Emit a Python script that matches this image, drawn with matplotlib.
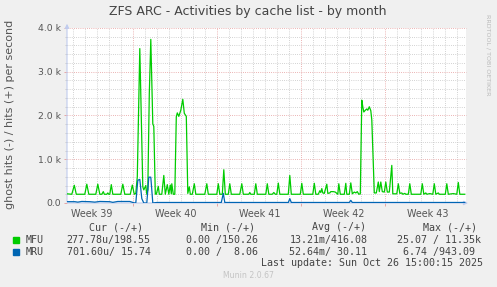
import matplotlib
matplotlib.use("Agg")
import matplotlib.pyplot as plt

# ------------------------------------------------------------
# DATA  (hours since Mon 22 Sep 2025 00:00, hits per second)
# ------------------------------------------------------------

mfu_hours = [35, 45, 50, 54, 71, 75, 79, 93, 97, 101, 105, 108, 110, 115, 117, 119,
             121, 124, 127, 143, 147, 151, 162, 166, 170, 173, 176, 181, 184, 187,
             189, 193, 195, 197, 200, 203, 207, 209, 212, 214, 218, 220, 225, 229,
             232, 236, 239, 242, 244, 245, 248, 251, 254, 256, 259, 263, 267, 270,
             273, 274, 277, 280, 282, 286, 290, 293, 311, 315, 318, 335, 338, 341,
             346, 349, 352, 358, 361, 364, 381, 385, 388, 399, 401, 403, 410, 413,
             416, 433, 436, 439, 446, 449, 452, 455, 458, 461, 478, 481, 484, 502,
             505, 508, 527, 530, 533, 538, 541, 543, 545, 547, 550, 555, 557, 561,
             563, 568, 572, 574, 577, 579, 582, 590, 593, 595, 600, 603, 606, 610,
             613, 616, 619, 622, 625, 627, 629, 632, 635, 637, 640, 643, 645, 650,
             654, 658, 660, 663, 666, 670, 673, 676, 680, 685, 687, 695, 698, 701,
             705, 707, 711, 713, 718, 721, 724, 743, 746, 749, 753, 755, 761, 767,
             770, 773, 778, 780, 792, 795, 798, 808, 815, 818, 821, 831]
mfu_values = [210, 200, 405, 200, 200, 430, 200, 200, 430, 200, 200, 260, 200, 200, 230, 200,
              200, 420, 200, 200, 430, 200, 200, 410, 200, 220, 600, 3530, 2000, 370,
              300, 400, 200, 300, 2500, 3740, 1810, 1750, 205, 200, 380, 200, 200, 630,
              200, 420, 200, 410, 210, 440, 200, 200, 1970, 2060, 1980, 2120, 2370, 2050,
              2000, 1980, 220, 370, 200, 200, 440, 200, 200, 440, 200, 200, 440, 200,
              200, 760, 200, 200, 440, 200, 200, 440, 200, 200, 240, 200, 200, 440,
              200, 200, 440, 200, 200, 240, 200, 200, 455, 200, 200, 630, 200, 200,
              450, 200, 200, 450, 200, 200, 280, 240, 330, 230, 220, 430, 220, 230,
              260, 260, 250, 230, 200, 440, 200, 200, 450, 200, 200, 460, 210, 250,
              230, 260, 200, 210, 2350, 2200, 2080, 2120, 2150, 2120, 2200, 2110, 1900, 230,
              230, 480, 260, 480, 260, 250, 480, 250, 250, 860, 210, 210, 440, 220,
              230, 200, 220, 200, 200, 440, 200, 200, 440, 200, 230, 200, 215, 200,
              440, 200, 230, 200, 200, 440, 200, 215, 200, 470, 200, 200]

mru_hours = [35, 51, 57, 65, 81, 91, 101, 121, 127, 137, 161, 169, 173, 177, 181, 185,
             189, 195, 199, 203, 207, 215, 344, 348, 351, 478, 481, 484, 600, 603,
             606, 831]
mru_values = [30, 30, 20, 35, 30, 20, 35, 30, 15, 35, 35, 5, 0, 520, 540, 100,
              0, 0, 590, 590, 0, 12, 12, 220, 12, 12, 100, 12, 12, 60,
              12, 12]

series_names = ["MFU", "MRU"]
series_colors = ["#00CC00", "#0066B3"]

week_labels = ["Week 39", "Week 40", "Week 41", "Week 42", "Week 43"]
y_ticks = [0, 1000, 2000, 3000, 4000]
y_tick_labels = ["0.0", "1.0 k", "2.0 k", "3.0 k", "4.0 k"]

legend_headers = ["Cur (-/+)", "Min (-/+)", "Avg (-/+)", "Max (-/+)"]
legend_rows = [
    ["277.78u/198.55", "0.00 /150.26", "13.21m/416.08", "25.07 / 11.35k"],
    ["701.60u/ 15.74", "0.00 /  8.06", "52.64m/ 30.11", "6.74 /943.09"],
]

# ------------------------------------------------------------
# FIGURE
# ------------------------------------------------------------

W, H = 497, 287
fig = plt.figure(figsize=(W / 100, H / 100), dpi=100, facecolor="#F0F0F0")

def px(x, y):
    return x / W, 1 - y / H

ax = fig.add_axes([67 / W, 1 - 203 / H, (466 - 67) / W, (203 - 28) / H])
ax.set_facecolor("white")
ax.set_xlim(35.4, 833.4)
ax.set_ylim(0, 4000)

for s in ax.spines.values():
    s.set_visible(False)

# grid
grid_grey = "#C4C4C4"
grid_red = "#E49A9A"
dots = (0, (1, 1.6))
for h in range(24, 840, 24):
    if h % 168 == 0:
        continue
    ax.axvline(h, color=grid_grey, lw=0.6, ls=dots, zorder=1)
for v in range(200, 4001, 200):
    if v % 1000 == 0:
        continue
    ax.axhline(v, color=grid_grey, lw=0.6, ls=dots, zorder=1)
for h in range(168, 840, 168):
    ax.axvline(h, color=grid_red, lw=0.6, ls=dots, zorder=1)
for v in range(1000, 4001, 1000):
    ax.axhline(v, color=grid_red, lw=0.6, ls=dots, zorder=1, clip_on=False)

# series
ax.plot(mfu_hours, mfu_values, color=series_colors[0], lw=0.9, zorder=3)
ax.plot(mru_hours, mru_values, color=series_colors[1], lw=0.9, zorder=3)

# axis arrows
ax.annotate("", xy=(1.012, 0), xytext=(-0.005, 0), xycoords="axes fraction",
            arrowprops=dict(arrowstyle="-|>", color="#C0CCEE", lw=0.8,
                            mutation_scale=6), zorder=2, annotation_clip=False)
ax.annotate("", xy=(0, 1.04), xytext=(0, -0.01), xycoords="axes fraction",
            arrowprops=dict(arrowstyle="-|>", color="#C0CCEE", lw=0.8,
                            mutation_scale=6), zorder=2, annotation_clip=False)

# ticks
ax.set_xticks([84 + 168 * i for i in range(len(week_labels))])
ax.set_xticklabels(week_labels)
ax.set_xticks(list(range(168, 840, 168)), minor=True)
ax.tick_params(axis="x", which="major", length=0, pad=4, labelsize=6.9,
               labelcolor="#555555")
ax.tick_params(axis="x", which="minor", length=2, width=0.6, color=grid_red)
ax.set_yticks(y_ticks)
ax.set_yticklabels(y_tick_labels)
ax.set_yticks([v for v in range(200, 4000, 200) if v % 1000], minor=True)
ax.tick_params(axis="y", which="major", length=2, width=0.6, color=grid_red,
               pad=2.5, labelsize=6.7, labelcolor="#555555")
ax.tick_params(axis="y", which="minor", length=1.5, width=0.6, color=grid_grey)

# title / axis label
fig.text(*px(248, 12), "ZFS ARC - Activities by cache list - by month",
         ha="center", va="center", fontsize=9.0, color="#444444")
fig.text(*px(10, 114), "ghost hits (-) / hits (+) per second", rotation=90,
         ha="center", va="center", fontsize=8.0, color="#555555")
fig.text(*px(488, 55), "RRDTOOL / TOBI OETIKER", rotation=270,
         ha="center", va="center", fontsize=4.6, color="#BBBBBB")

# legend
mono = "DejaVu Sans Mono"
fs = 7.2
for x, t in zip([89.3, 201, 311.7, 422.7], legend_headers):
    fig.text(*px(x, 227), t, ha="left", va="center", family=mono,
             fontsize=fs, color="#444444")

col_x = [[66.7, 185.7, 289.3, 397.3], [66.7, 185.7, 289.3, 403.3]]
for i, (name, color) in enumerate(zip(series_names, series_colors)):
    yy = 240 + i * 12.3
    fig.patches.append(plt.Rectangle(px(13.3, yy + 3), 6 / W, 6 / H,
                                     transform=fig.transFigure, color=color))
    fig.text(*px(26, yy), name, ha="left", va="center", family=mono,
             fontsize=fs, color="#444444")
    for x, t in zip(col_x[i], legend_rows[i]):
        fig.text(*px(x, yy), t, ha="left", va="center", family=mono,
                 fontsize=fs, color="#444444")

fig.text(*px(482.7, 263.5), "Last update: Sun Oct 26 15:00:15 2025",
         ha="right", va="center", family=mono, fontsize=fs, color="#444444")
fig.text(*px(248, 276), "Munin 2.0.67", ha="center", va="center",
         fontsize=5.6, color="#C4C4C4")

fig.savefig("out.png", dpi=100, facecolor=fig.get_facecolor())
